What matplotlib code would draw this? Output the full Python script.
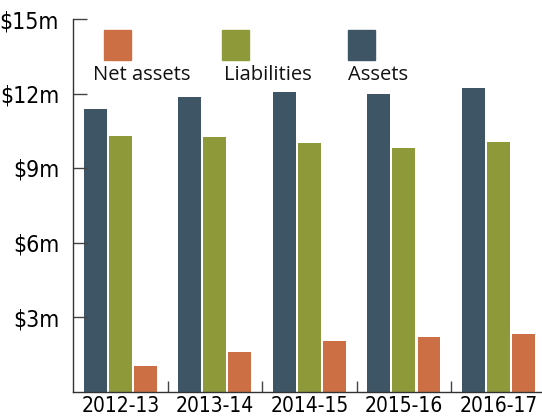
import matplotlib
matplotlib.use('Agg')
import matplotlib.pyplot as plt
from matplotlib.patches import Rectangle
import numpy as np

years = ['2012-13', '2013-14', '2014-15', '2015-16', '2016-17']
assets = [11.39, 11.87, 12.07, 11.98, 12.24]
liabilities = [10.30, 10.26, 10.02, 9.82, 10.06]
net_assets = [1.03, 1.61, 2.02, 2.18, 2.31]
series_names = ['Net assets', 'Liabilities', 'Assets']
y_ticks = [3, 6, 9, 12, 15]

c_assets = '#3e5566'
c_liab = '#8e9a3a'
c_net = '#cd6f45'

W, H = 542, 420

fig = plt.figure(figsize=(W / 100, H / 100), dpi=100)
ax = fig.add_axes([73 / W, (H - 391.5) / H, 1 - 73 / W, (391.5 - 19) / H])

x = np.arange(len(years))
step = 0.265
w = 0.243
ax.bar(x - step, assets, w, color=c_assets)
ax.bar(x, liabilities, w, color=c_liab)
ax.bar(x + step, net_assets, w, color=c_net)

ax.set_xlim(-0.5, 4.46)
ax.set_ylim(0, 15)

ax.spines['top'].set_visible(False)
ax.spines['right'].set_visible(False)
for s in ['left', 'bottom']:
	ax.spines[s].set_color('#333333')
	ax.spines[s].set_linewidth(1.0)

ax.set_yticks(y_ticks)
ax.set_yticklabels(['$%dm' % v for v in y_ticks], family='DejaVu Sans',
	stretch='condensed', fontsize=16.5)
ax.tick_params(axis='y', direction='in', length=10, width=1, color='#444444', pad=10)

ax.set_xticks(x)
ax.set_xticklabels(years, family='DejaVu Sans', stretch='condensed', fontsize=15)
ax.tick_params(axis='x', which='major', length=0, pad=3)
ax.set_xticks(x[:-1] + 0.5, minor=True)
ax.tick_params(axis='x', which='minor', direction='in', length=8, width=1, color='#444444')

# legend drawn by hand: squares above the labels
leg = [(104, 93, c_net), (222, 224, c_liab), (348, 348, c_assets)]
for (sx, tx, col), name in zip(leg, series_names):
	fig.patches.append(Rectangle((sx / W, (H - 60) / H), 27 / W, 30 / H,
		transform=fig.transFigure, color=col, figure=fig))
	fig.text(tx / W, (H - 75) / H, name, fontsize=14.5, family=['Open Sans', 'DejaVu Sans'],
		va='center', ha='left', color='#111111')

fig.savefig('out.png', dpi=100)
